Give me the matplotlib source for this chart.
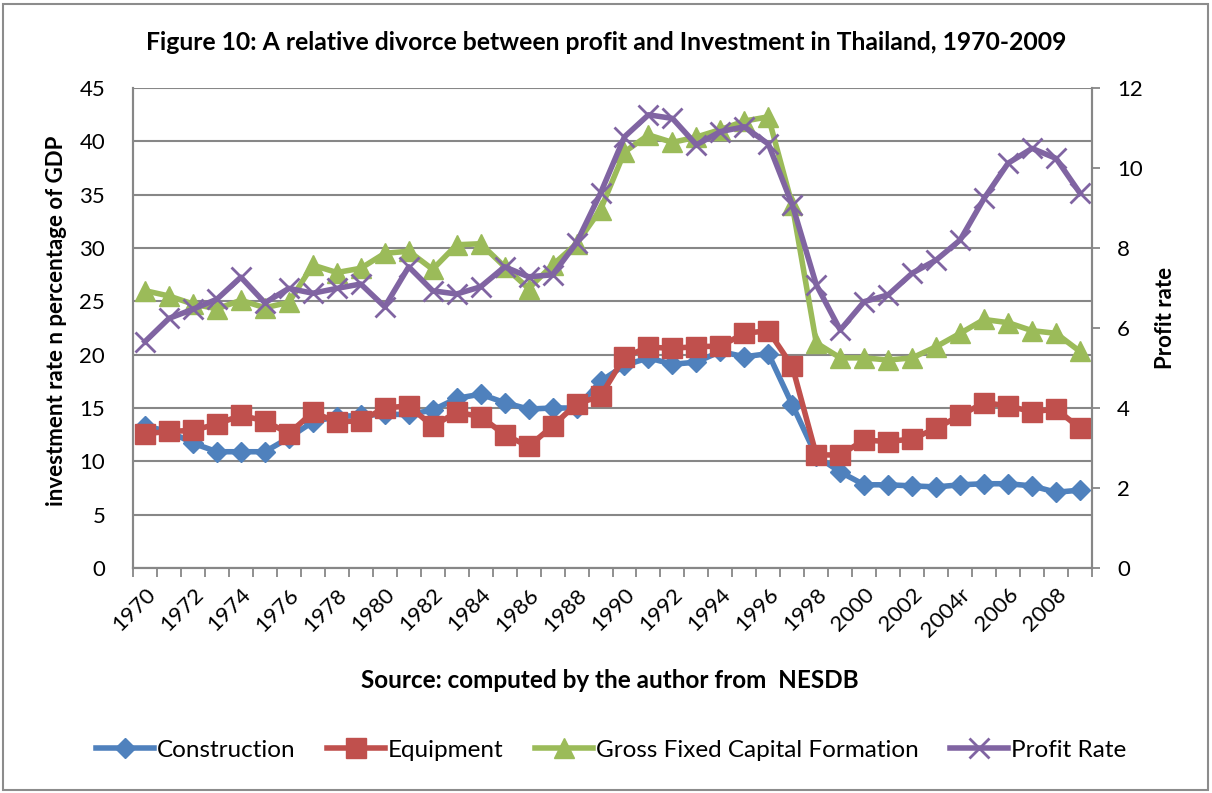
import numpy as np
import matplotlib.pyplot as plt
from matplotlib.patches import Rectangle
from matplotlib.lines import Line2D

plt.rcParams['font.family'] = ['Lato', 'DejaVu Sans']

years = list(range(1970, 2010))
year_labels = [str(y) if y != 2004 else '2004r' for y in years]

construction = [13.3, 12.8, 11.7, 10.9, 10.9, 10.9, 12.2, 13.7, 14.2, 14.3,
                14.4, 14.4, 14.8, 15.9, 16.3, 15.5, 14.9, 15.0, 15.0, 17.5,
                19.0, 19.7, 19.1, 19.3, 20.3, 19.8, 20.1, 15.3, 10.5, 9.0,
                7.8, 7.8, 7.7, 7.6, 7.8, 7.9, 7.9, 7.7, 7.1, 7.3]
equipment = [12.6, 12.8, 12.9, 13.5, 14.3, 13.8, 12.6, 14.6, 13.7, 13.8,
             15.0, 15.2, 13.3, 14.6, 14.2, 12.5, 11.4, 13.3, 15.4, 16.1,
             19.8, 20.7, 20.6, 20.75, 20.8, 22.0, 22.25, 18.9, 10.6, 10.6,
             12.0, 11.85, 12.1, 13.1, 14.3, 15.5, 15.2, 14.65, 14.9, 13.1]
gfcf = [26.0, 25.5, 24.75, 24.3, 25.1, 24.4, 24.9, 28.4, 27.7, 28.1,
        29.5, 29.7, 28.0, 30.3, 30.4, 28.25, 26.2, 28.4, 30.4, 33.6,
        39.0, 40.6, 39.9, 40.4, 41.1, 41.9, 42.3, 34.0, 21.1, 19.7,
        19.7, 19.5, 19.7, 20.75, 22.0, 23.3, 23.0, 22.25, 22.0, 20.3]
profit_rate = [5.66, 6.24, 6.47, 6.72, 7.27, 6.63, 6.99, 6.87, 6.99, 7.1,
               6.53, 7.53, 6.93, 6.85, 7.03, 7.53, 7.28, 7.33, 8.13, 9.37,
               10.78, 11.33, 11.24, 10.58, 10.91, 11.03, 10.6, 9.08, 7.08, 5.95,
               6.66, 6.83, 7.37, 7.7, 8.2, 9.24, 10.12, 10.49, 10.24, 9.37]

c_blue = '#4F81BD'
c_red = '#C0504D'
c_green = '#9BBB59'
c_purple = '#8064A2'
grid_c = '#878787'

fig = plt.figure(figsize=(12.12, 7.93), dpi=100)
ax = fig.add_axes([133/1212, 1 - 568/793, (1092-133)/1212, 480/793])
ax2 = ax.twinx()

x = np.arange(len(years))
lw = 4
ax.plot(x, construction, color=c_blue, lw=lw, marker='D', ms=10, label='Construction', zorder=3)
ax.plot(x, equipment, color=c_red, lw=lw, marker='s', ms=14, label='Equipment', zorder=4)
ax.plot(x, gfcf, color=c_green, lw=lw, marker='^', ms=15, label='Gross Fixed Capital Formation', zorder=5)
ax2.plot(x, profit_rate, color=c_purple, lw=lw, marker='x', ms=15, mew=2, label='Profit Rate')

ax.set_xlim(-0.5, len(years) - 0.5)
ax.set_ylim(0, 45)
ax.set_yticks(range(0, 46, 5))
ax2.set_ylim(0, 12)
ax2.set_yticks(range(0, 13, 2))

ax.yaxis.grid(True, color=grid_c, lw=1.5)
ax.set_axisbelow(True)

ax.set_xticks(x[::2])
ax.set_xticklabels(year_labels[::2], rotation=45, ha='right', rotation_mode='anchor')
ax.set_xticks(np.arange(-0.5, len(years), 1), minor=True)
ax.tick_params(axis='x', which='major', length=0, pad=12, labelsize=16)
ax.tick_params(axis='x', which='minor', length=6.5, color=grid_c, width=1.3)
ax.tick_params(axis='y', length=0, labelsize=16, pad=20)
ax2.tick_params(axis='y', length=6, color=grid_c, width=1.3, labelsize=16, pad=12)

for a in (ax, ax2):
    a.spines['top'].set_visible(False)
    for s in ('left', 'right', 'bottom'):
        a.spines[s].set_color(grid_c)
        a.spines[s].set_linewidth(1.5)

ax.set_ylabel('investment rate n percentage of GDP', fontsize=16, fontweight='bold')
ax.yaxis.set_label_coords(-0.069, 0.515)
ax2.set_ylabel('Profit rate', fontsize=16, fontweight='bold')
ax2.yaxis.set_label_coords(1.066, 0.52)

fig.text(606/1212, 1 - 42/793, 'Figure 10: A relative divorce between profit and Investment in Thailand, 1970-2009',
         ha='center', va='center', fontsize=17.8, fontweight='bold')
fig.text(610/1212, 1 - 680/793, 'Source: computed by the author from  NESDB',
         ha='center', va='center', fontsize=17.5, fontweight='bold')

handles = [
    Line2D([], [], color=c_blue, lw=lw, marker='D', ms=10),
    Line2D([], [], color=c_red, lw=lw, marker='s', ms=14),
    Line2D([], [], color=c_green, lw=lw, marker='^', ms=15),
    Line2D([], [], color=c_purple, lw=lw, marker='x', ms=15, mew=2),
]
labels = ['Construction', 'Equipment', 'Gross Fixed Capital Formation', 'Profit Rate']
fig.legend(handles, labels, loc='center', bbox_to_anchor=(611/1212, 1 - 750/793), ncol=4,
           frameon=False, fontsize=17.5, handlelength=2.4, handletextpad=0.1, columnspacing=1.3)

fig.patches.append(Rectangle((3/1212, 3/793), 1205/1212, 786/793, transform=fig.transFigure,
                             fill=False, edgecolor='#8c8c8c', lw=1.5))

fig.savefig('out.png', dpi=100)
